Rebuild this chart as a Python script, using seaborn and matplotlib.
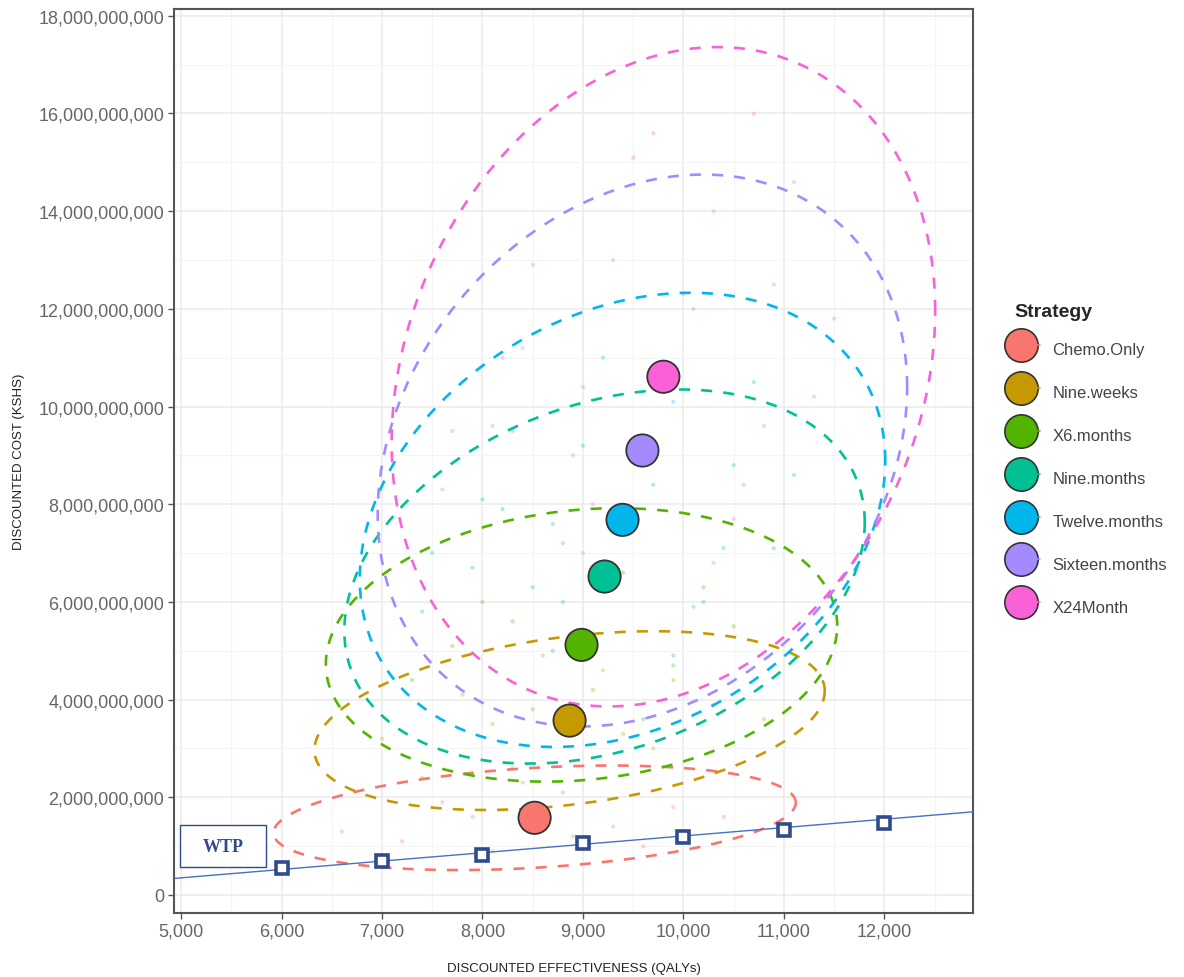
import numpy as np
import pandas as pd
import matplotlib
matplotlib.use("Agg")
import matplotlib.pyplot as plt
import seaborn as sns
from matplotlib.lines import Line2D
from matplotlib.legend_handler import HandlerTuple
from matplotlib.ticker import FuncFormatter, MultipleLocator
from matplotlib.patches import Rectangle

# ---- data -----------------------------------------------------------------
strategies = ["Chemo.Only", "Nine.weeks", "X6.months", "Nine.months",
              "Twelve.months", "Sixteen.months", "X24Month"]
colors = ["#F8766D", "#C49A00", "#53B400", "#00C094",
          "#00B6EB", "#A58AFF", "#FB61D7"]

# mean discounted effectiveness (QALYs) and cost (KSHS)
mean_qaly = [8519, 8867, 8986, 9215, 9394, 9592, 9801]
mean_cost = [1.58e9, 3.57e9, 5.12e9, 6.52e9, 7.68e9, 9.10e9, 10.61e9]

# spread of the PSA cloud used for the confidence ellipses
sd_qaly = [2600, 2540, 2545, 2590, 2615, 2635, 2705]
sd_cost = [1.07e9, 1.83e9, 2.80e9, 3.83e9, 4.65e9, 5.65e9, 6.75e9]
corr = [0.29, 0.33, 0.14, 0.29, 0.26, 0.23, 0.20]

# PSA samples (sparse)
psa_qaly = {
    "Chemo.Only": [7200, 7600, 8100, 8800, 9300, 9900, 6600, 8400, 9600, 10400, 7900, 8900],
    "Nine.weeks": [7000, 7800, 8300, 9200, 9700, 10300, 8600, 7400, 9900, 8100, 9400, 10800],
    "X6.months": [7300, 8000, 8500, 9400, 9900, 10500, 8800, 7700, 9600, 10200, 8300, 9100],
    "Nine.months": [7400, 8200, 8700, 9700, 10200, 10900, 9000, 7900, 9900, 10500, 8500, 9400],
    "Twelve.months": [7500, 8300, 8800, 9900, 10400, 11100, 9200, 8000, 10100, 10700, 8700, 9600],
    "Sixteen.months": [7600, 8400, 9000, 10100, 10600, 11300, 9300, 8100, 10300, 10900, 8900, 9800],
    "X24Month": [7700, 8500, 9100, 10300, 10800, 11500, 9500, 8200, 10500, 11100, 9000, 10000, 9700, 10700],
}
psa_cost = {
    "Chemo.Only": [1.1e9, 1.9e9, 0.9e9, 2.1e9, 1.4e9, 1.8e9, 1.3e9, 2.3e9, 1.0e9, 1.6e9, 1.6e9, 1.2e9],
    "Nine.weeks": [3.2e9, 4.1e9, 2.6e9, 4.6e9, 3.0e9, 3.9e9, 4.9e9, 2.4e9, 4.4e9, 3.5e9, 3.3e9, 3.6e9],
    "X6.months": [4.4e9, 6.0e9, 3.8e9, 6.6e9, 4.7e9, 5.5e9, 7.2e9, 5.1e9, 3.6e9, 6.3e9, 5.6e9, 4.2e9],
    "Nine.months": [5.8e9, 7.9e9, 5.0e9, 8.4e9, 6.0e9, 7.1e9, 9.2e9, 6.7e9, 4.9e9, 8.8e9, 6.3e9, 7.6e9],
    "Twelve.months": [7.0e9, 9.5e9, 6.0e9, 10.1e9, 7.1e9, 8.6e9, 11.0e9, 8.1e9, 5.9e9, 10.5e9, 7.6e9, 9.0e9],
    "Sixteen.months": [8.3e9, 11.2e9, 7.0e9, 12.0e9, 8.4e9, 10.2e9, 13.0e9, 9.6e9, 6.8e9, 12.5e9, 9.0e9, 10.7e9],
    "X24Month": [9.5e9, 12.9e9, 8.0e9, 14.0e9, 9.6e9, 11.8e9, 15.1e9, 11.0e9, 7.7e9, 14.6e9, 10.4e9, 12.3e9, 15.6e9, 16.0e9],
}

# willingness-to-pay threshold
wtp_qaly = [6000, 7000, 8000, 9000, 10000, 11000, 12000]
wtp_cost = [0.553e9, 0.69e9, 0.826e9, 1.066e9, 1.18e9, 1.33e9, 1.475e9]
wtp_line_qaly = [6000, 12000]
wtp_line_cost = [0.522e9, 1.551e9]

x_ticks = [5000, 6000, 7000, 8000, 9000, 10000, 11000, 12000]
y_ticks = [0, 2e9, 4e9, 6e9, 8e9, 10e9, 12e9, 14e9, 16e9, 18e9]

# ---- style ------------------------------------------------------------------
sns.set_theme(style="white")
plt.rcParams["font.family"] = ["Liberation Sans", "DejaVu Sans"]

fig = plt.figure(figsize=(11.84, 9.78), dpi=100)
ax = fig.add_axes([0.147, 0.0654, 0.675, 0.9244])

palette = dict(zip(strategies, colors))

# PSA cloud
cloud = pd.DataFrame(
    [(s, q, c) for s in strategies for q, c in zip(psa_qaly[s], psa_cost[s])],
    columns=["Strategy", "qaly", "cost"],
)
sns.scatterplot(data=cloud, x="qaly", y="cost", hue="Strategy", palette=palette,
                s=9, alpha=0.3, linewidth=0, legend=False, ax=ax, zorder=2)

# confidence ellipses
t = np.linspace(0, 2 * np.pi, 300)
for s, col, mx, my, sx, sy, r in zip(strategies, colors, mean_qaly, mean_cost,
                                     sd_qaly, sd_cost, corr):
    ex = mx + sx * np.cos(t)
    ey = my + sy * (r * np.cos(t) + np.sqrt(1 - r ** 2) * np.sin(t))
    ax.plot(ex, ey, color=col, lw=1.9, linestyle=(0, (4.2, 4.2)), zorder=3)

# strategy means
means = pd.DataFrame({"Strategy": strategies, "qaly": mean_qaly, "cost": mean_cost})
sns.scatterplot(data=means, x="qaly", y="cost", hue="Strategy", palette=palette,
                s=540, edgecolor="#333333", linewidth=1.3, legend=False, ax=ax,
                zorder=5)

# WTP threshold
ax.axline((wtp_line_qaly[0], wtp_line_cost[0]), (wtp_line_qaly[1], wtp_line_cost[1]),
          color="#4472C4", lw=1.0, zorder=6)
ax.plot(wtp_qaly, wtp_cost, linestyle="none", marker="s", markersize=8.5,
        markerfacecolor="white", markeredgecolor="#2F4B8A", markeredgewidth=2.6,
        zorder=7)
ax.add_patch(Rectangle((0.0075, 0.051), 0.107, 0.046, transform=ax.transAxes,
                       facecolor="white", edgecolor="#2F4B8A", lw=1.0, zorder=8))
ax.text(0.061, 0.074, "WTP", transform=ax.transAxes, ha="center", va="center",
        fontsize=13, fontweight="bold", color="#2F4B8A",
        family=["Liberation Serif", "DejaVu Serif"], zorder=9)

# axes
ax.set_xlim(4930, 12885)
ax.set_ylim(-0.37e9, 18.14e9)
ax.set_xticks(x_ticks)
ax.set_yticks(y_ticks)
ax.xaxis.set_minor_locator(MultipleLocator(500))
ax.yaxis.set_minor_locator(MultipleLocator(1e9))
fmt = FuncFormatter(lambda v, p: f"{v:,.0f}")
ax.xaxis.set_major_formatter(fmt)
ax.yaxis.set_major_formatter(fmt)
ax.grid(which="major", color="#EBEBEB", lw=1.1, zorder=0)
ax.grid(which="minor", color="#F4F4F4", lw=0.8, zorder=0)
ax.set_axisbelow(True)
for sp in ax.spines.values():
    sp.set_color("#555555")
    sp.set_linewidth(1.5)
ax.tick_params(axis="both", which="major", direction="out", length=4, width=1,
               color="#555555", labelsize=13, labelcolor="#666666", pad=3,
               bottom=True, left=True)
ax.tick_params(axis="both", which="minor", length=0)
ax.set_xlabel("DISCOUNTED EFFECTIVENESS (QALYs)", fontsize=9.5, color="#222222",
              labelpad=16)
ax.set_ylabel("DISCOUNTED COST (KSHS)", fontsize=9.5, color="#222222", labelpad=10)

# legend
handles = []
for col in colors:
    dot = Line2D([], [], linestyle="none", marker="o", markersize=24,
                 markerfacecolor=col, markeredgecolor="#333333", markeredgewidth=1.2)
    dash = Line2D([], [], color=col, lw=1.2, linestyle=(0, (2.5, 2.5)))
    handles.append((dot, dash))
leg = fig.legend(handles, strategies, handler_map={tuple: HandlerTuple(ndivide=None, pad=0)},
                 loc="upper left", bbox_to_anchor=(0.851, 0.696), frameon=False,
                 title="Strategy", fontsize=12, handlelength=1.6, handleheight=2.2,
                 labelspacing=0.9, handletextpad=0.7, borderaxespad=0)
leg.get_title().set_fontweight("bold")
leg.get_title().set_fontsize(14)
leg._legend_box.align = "left"
leg._legend_box.sep = 11
for txt in leg.get_texts():
    txt.set_color("#444444")

fig.savefig("out.png", dpi=100)
